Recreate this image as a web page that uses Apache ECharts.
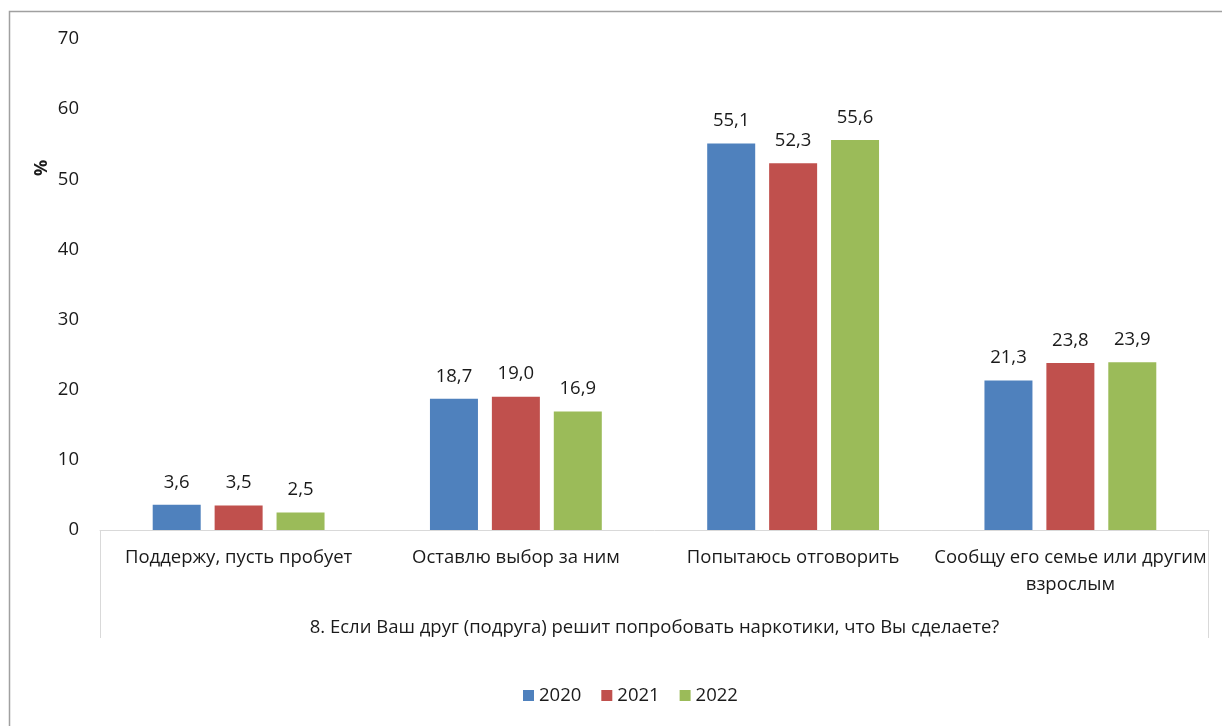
<!DOCTYPE html>
<html>
<head>
<meta charset="utf-8">
<script src="https://cdn.jsdelivr.net/npm/echarts@6/dist/echarts.min.js"></script>
<style>
  html, body { margin: 0; padding: 0; background: #fff; }
  #chart { width: 1222px; height: 726px; }
</style>
</head>
<body>
<div id="chart"></div>
<script>
const categories = [
  "Поддержу, пусть пробует",
  "Оставлю выбор за ним",
  "Попытаюсь отговорить",
  "Сообщу его семье или другим\nвзрослым"
]
const years = ["2020", "2021", "2022"]
const values2020 = [3.6, 18.7, 55.1, 21.3]
const values2021 = [3.5, 19.0, 52.3, 23.8]
const values2022 = [2.5, 16.9, 55.6, 23.9]
const colors = ["#4f81bd", "#c0504d", "#9bbb59"]
const groupTitle = "8. Если Ваш друг (подруга) решит попробовать наркотики, что Вы сделаете?"

const font = "Open Sans"
const fs = 18.5
const chart = echarts.init(document.getElementById("chart"))

function barSeries(name, data, color) {
  return {
    name: name,
    type: "bar",
    data: data,
    barWidth: 48,
    barGap: "29%",
    itemStyle: { color: color },
    label: {
      show: true,
      position: "top",
      distance: 13,
      color: "#1a1a1a",
      fontFamily: font,
      fontSize: fs,
      formatter: (p) => p.value.toFixed(1).replace(".", ","),
    },
  }
}

chart.setOption({
  animation: false,
  textStyle: { fontFamily: font },
  grid: { left: 100, right: 13, top: 39, bottom: 196 },
  legend: {
    top: 681,
    left: 518,
    itemWidth: 11,
    itemHeight: 11,
    itemGap: 20,
    icon: "rect",
    textStyle: { fontSize: fs, color: "#1a1a1a", fontFamily: font },
    data: years,
  },
  xAxis: {
    type: "category",
    data: categories,
    axisLine: { lineStyle: { color: "#d9d9d9", width: 1 } },
    axisTick: { show: false },
    axisLabel: {
      interval: 0,
      margin: 14,
      color: "#1a1a1a",
      fontSize: fs,
      lineHeight: 27,
      fontFamily: font,
    },
    name: groupTitle,
    nameLocation: "middle",
    nameGap: 88,
    nameTextStyle: { fontSize: fs, color: "#1a1a1a", fontFamily: font },
  },
  yAxis: {
    type: "value",
    min: 0,
    max: 70,
    interval: 10,
    axisLine: { show: false },
    axisTick: { show: false },
    splitLine: { show: false },
    axisLabel: { margin: 21, color: "#1a1a1a", fontSize: fs, fontFamily: font },
  },
  graphic: [
    {
      type: "rect",
      shape: { x: 9.5, y: 11.5, width: 1230, height: 730 },
      style: { fill: null, stroke: "#a0a0a0", lineWidth: 1.5 },
      silent: true,
    },
    {
      type: "line",
      shape: { x1: 100.5, y1: 530, x2: 100.5, y2: 638 },
      style: { stroke: "#d9d9d9", lineWidth: 1 },
    },
    {
      type: "line",
      shape: { x1: 1208.5, y1: 530, x2: 1208.5, y2: 638 },
      style: { stroke: "#d9d9d9", lineWidth: 1 },
    },
    {
      type: "text",
      x: 33,
      y: 176,
      rotation: Math.PI / 2,
      style: { text: "%", fontSize: 18, fontWeight: "bold", fill: "#1a1a1a", fontFamily: font },
    },
  ],
  series: [
    barSeries(years[0], values2020, colors[0]),
    barSeries(years[1], values2021, colors[1]),
    barSeries(years[2], values2022, colors[2]),
  ],
})
</script>
</body>
</html>
